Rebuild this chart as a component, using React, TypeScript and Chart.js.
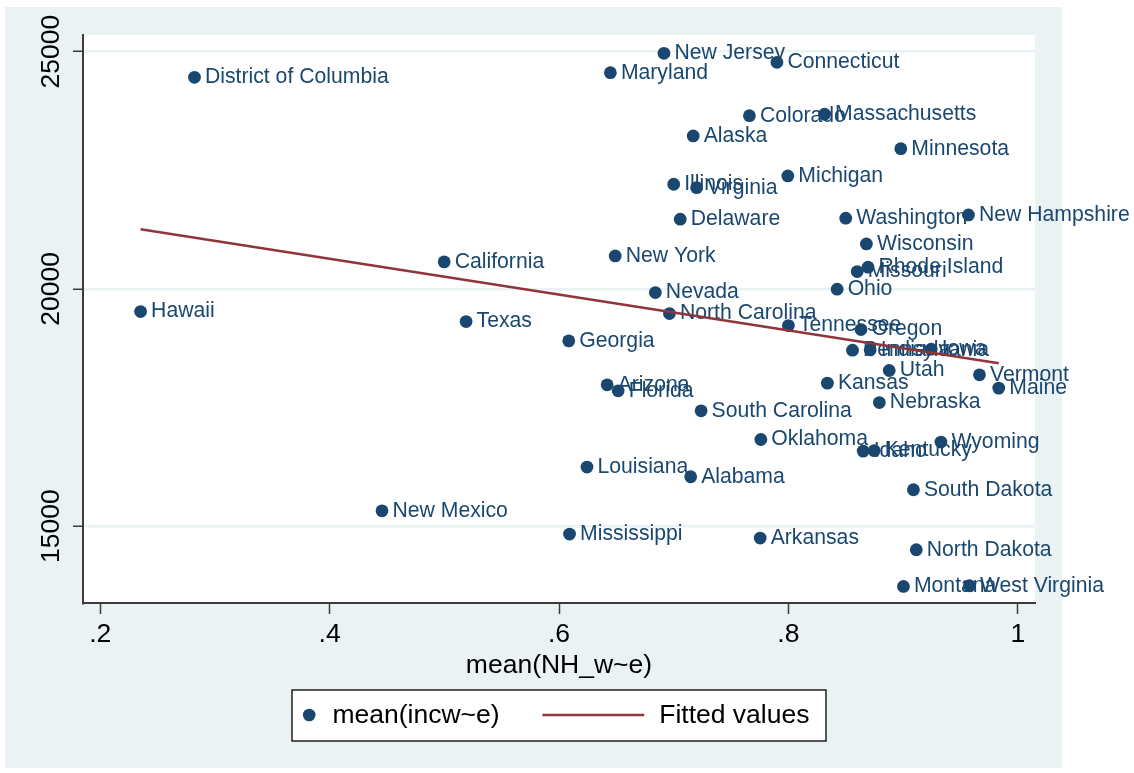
import React, { useEffect, useRef } from 'react';
import { Chart, registerables } from 'chart.js';

Chart.register(...registerables);

// ---------- data ----------
const states: string[] = [
  'New Jersey', 'Maryland', 'Connecticut', 'Colorado', 'Massachusetts', 'Alaska', 'Minnesota',
  'Illinois', 'Virginia', 'Michigan', 'Delaware', 'Washington', 'New Hampshire', 'Wisconsin',
  'Rhode Island', 'Missouri', 'New York', 'Nevada', 'Ohio', 'North Carolina', 'Tennessee',
  'Oregon', 'Georgia', 'Pennsylvania', 'Indiana', 'Iowa', 'Utah', 'Vermont', 'Maine', 'Kansas',
  'Nebraska', 'Oklahoma', 'Idaho', 'Kentucky', 'Wyoming', 'South Dakota', 'Louisiana', 'Alabama',
  'South Carolina', 'Arizona', 'Florida', 'Mississippi', 'Arkansas', 'North Dakota', 'Montana',
  'West Virginia', 'District of Columbia', 'California', 'Hawaii', 'Texas', 'New Mexico',
];

const nhWhiteShare: number[] = [
  0.6915, 0.6448, 0.790, 0.766, 0.8315, 0.717, 0.898,
  0.700, 0.720, 0.7995, 0.7057, 0.850, 0.957, 0.868,
  0.8694, 0.860, 0.649, 0.684, 0.8425, 0.6963, 0.800,
  0.8633, 0.6085, 0.8559, 0.8713, 0.9245, 0.8879, 0.9666, 0.9834, 0.834,
  0.8793, 0.776, 0.8652, 0.8748, 0.933, 0.909, 0.6244, 0.7148,
  0.7239, 0.642, 0.6516, 0.6092, 0.7754, 0.9115, 0.9003,
  0.9578, 0.2822, 0.4999, 0.2352, 0.519, 0.4457,
];

const meanIncome: number[] = [
  24966, 24557, 24777, 23651, 23681, 23224, 22956,
  22206, 22134, 22381, 21469, 21490, 21559, 20948,
  20457, 20365, 20695, 19922, 19994, 19480, 19227,
  19143, 18904, 18707, 18714, 18728, 18279, 18188, 17908, 18013,
  17604, 16825, 16580, 16590, 16770, 15765, 16243, 16039,
  17429, 17977, 17851, 14832, 14747, 14501, 13727,
  13742, 24460, 20569, 19522, 19311, 15322,
];

const fittedX: number[] = [0.2352, 0.9834];
const fittedY: number[] = [21258, 18434];

const xTicks: number[] = [0.2, 0.4, 0.6, 0.8, 1.0];
const xTickLabels: string[] = ['.2', '.4', '.6', '.8', '1'];
const yTicks: number[] = [15000, 20000, 25000];
const yTickLabels: string[] = ['15000', '20000', '25000'];

const xTitle = 'mean(NH_w~e)';
const seriesLabel = 'mean(incw~e)';
const fitLabel = 'Fitted values';

// ---------- styles ----------
const FONT = "'Liberation Sans', Arial, Helvetica, sans-serif";
const NAVY = '#1a476f';
const MAROON = '#90353b';
const BG = '#eaf2f3';
const AXIS = '#3c3c3c';

const bgPlugin = {
  id: 'stataBg',
  beforeDraw(chart: any) {
    const { ctx, chartArea } = chart;
    ctx.save();
    ctx.fillStyle = '#ffffff';
    ctx.fillRect(0, 0, chart.width, chart.height);
    ctx.fillStyle = BG;
    ctx.fillRect(5, 7, 1057, 761);
    ctx.fillStyle = '#ffffff';
    ctx.fillRect(chartArea.left, chartArea.top, chartArea.right - chartArea.left, chartArea.bottom - chartArea.top);
    ctx.restore();
  },
};

const pointLabelPlugin = {
  id: 'pointLabels',
  beforeDatasetsDraw(chart: any) {
    const { ctx } = chart;
    const meta = chart.getDatasetMeta(0);
    ctx.save();
    ctx.font = `21.2px ${FONT}`;
    ctx.fillStyle = NAVY;
    ctx.textAlign = 'left';
    ctx.textBaseline = 'middle';
    meta.data.forEach((el: any, i: number) => {
      ctx.fillText(states[i], el.x + 10.5, el.y);
    });
    ctx.restore();
  },
};

const legendPlugin = {
  id: 'stataLegend',
  afterDraw(chart: any) {
    const { ctx, chartArea } = chart;
    const cx = (chartArea.left + chartArea.right) / 2;
    const w = 534;
    const left = cx - w / 2;
    const top = 690;
    const h = 51;
    const midY = top + 25;
    ctx.save();
    ctx.fillStyle = '#ffffff';
    ctx.fillRect(left, top, w, h);
    ctx.strokeStyle = '#000000';
    ctx.lineWidth = 1.3;
    ctx.strokeRect(left, top, w, h);
    // marker
    ctx.fillStyle = NAVY;
    ctx.beginPath();
    ctx.arc(left + 17.2, midY, 6.3, 0, Math.PI * 2);
    ctx.fill();
    // text
    ctx.font = `26.5px ${FONT}`;
    ctx.fillStyle = '#000000';
    ctx.textBaseline = 'middle';
    ctx.textAlign = 'left';
    ctx.fillText(seriesLabel, left + 40.4, midY + 0.5);
    // line
    ctx.strokeStyle = MAROON;
    ctx.lineWidth = 2.6;
    ctx.beginPath();
    ctx.moveTo(left + 250.4, midY);
    ctx.lineTo(left + 352.2, midY);
    ctx.stroke();
    ctx.fillText(fitLabel, left + 367.2, midY + 0.5);
    ctx.restore();
  },
};

export default function App() {
  const ref = useRef<HTMLCanvasElement>(null);

  useEffect(() => {
    if (!ref.current) return;
    const scatterData = states.map((_, i) => ({ x: nhWhiteShare[i], y: meanIncome[i] }));
    const fitData = fittedX.map((x, i) => ({ x, y: fittedY[i] }));

    const chart = new Chart(ref.current, {
      type: 'scatter',
      data: {
        datasets: [
          {
            type: 'scatter',
            label: seriesLabel,
            data: scatterData,
            pointRadius: 6.4,
            pointHoverRadius: 6.4,
            pointBackgroundColor: NAVY,
            pointBorderWidth: 0,
            borderColor: NAVY,
            order: 1,
          } as any,
          {
            type: 'line',
            label: fitLabel,
            data: fitData,
            borderColor: MAROON,
            borderWidth: 2.6,
            pointRadius: 0,
            fill: false,
            tension: 0,
            order: 0,
          } as any,
        ],
      },
      options: {
        responsive: false,
        animation: false,
        devicePixelRatio: 1,
        events: [],
        layout: { padding: { left: 0, top: 35, right: 99, bottom: 0 } },
        plugins: {
          legend: { display: false },
          tooltip: { enabled: false },
          title: { display: false },
        },
        scales: {
          x: {
            type: 'linear',
            min: 0.185,
            max: 1.015,
            afterBuildTicks: (s: any) => {
              s.ticks = xTicks.map((v) => ({ value: v }));
            },
            afterFit: (s: any) => {
              s.height = 170;
            },
            grid: {
              display: true,
              drawOnChartArea: false,
              drawTicks: true,
              tickLength: 11,
              tickColor: AXIS,
              tickWidth: 1.5,
            },
            border: { display: true, color: AXIS, width: 2 },
            ticks: {
              autoSkip: false,
              maxRotation: 0,
              minRotation: 0,
              padding: 5,
              color: '#000000',
              font: { family: FONT, size: 26.5 },
              callback: (v: any) => xTickLabels[xTicks.indexOf(Number(v))] ?? '',
            },
            title: {
              display: true,
              text: xTitle,
              color: '#000000',
              font: { family: FONT, size: 26.5, lineHeight: 1.2 },
              padding: { top: 0, bottom: 91 },
            },
          } as any,
          y: {
            type: 'linear',
            min: 13378,
            max: 25352,
            afterBuildTicks: (s: any) => {
              s.ticks = yTicks.map((v) => ({ value: v }));
            },
            afterFit: (s: any) => {
              s.width = 83;
            },
            grid: {
              display: true,
              color: BG,
              lineWidth: 2.5,
              drawTicks: true,
              tickLength: 10,
              tickColor: AXIS,
              tickWidth: 1.5,
            },
            border: { display: true, color: AXIS, width: 2 },
            ticks: {
              autoSkip: false,
              minRotation: 90,
              maxRotation: 90,
              crossAlign: 'center',
              padding: -16,
              color: '#000000',
              font: { family: FONT, size: 26.5 },
              callback: (v: any) => yTickLabels[yTicks.indexOf(Number(v))] ?? '',
            },
          } as any,
        },
      },
      plugins: [bgPlugin, pointLabelPlugin, legendPlugin],
    });

    return () => chart.destroy();
  }, []);

  return (
    <div style={{ position: 'absolute', left: 0, top: 0, width: 1134, height: 773 }}>
      <canvas ref={ref} width={1134} height={773} style={{ display: 'block', width: 1134, height: 773 }} />
    </div>
  );
}
